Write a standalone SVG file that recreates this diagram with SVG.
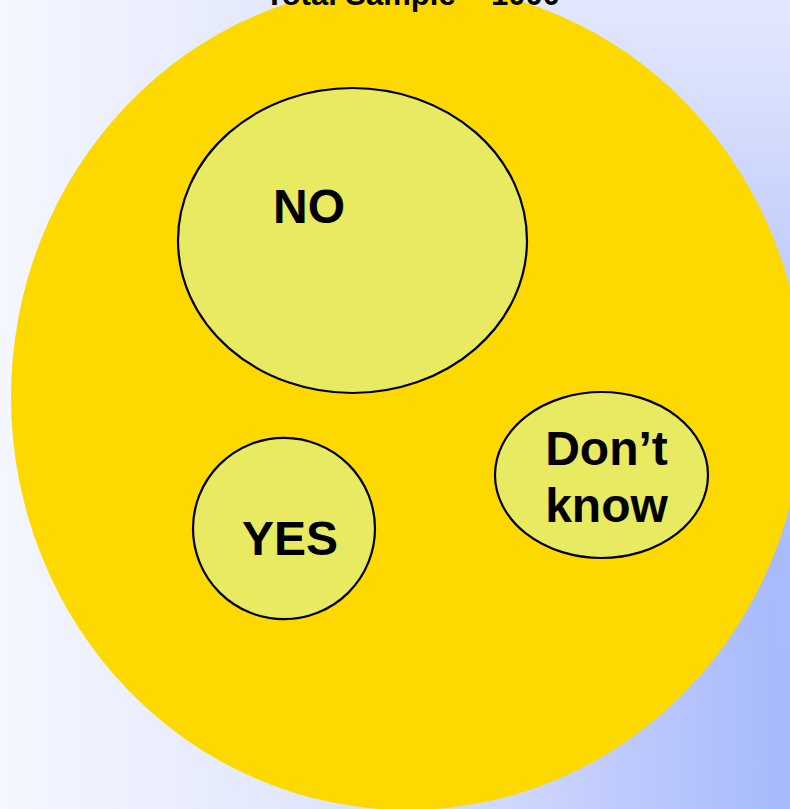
<svg xmlns="http://www.w3.org/2000/svg" width="790" height="809" viewBox="0 0 790 809">
  <defs>
    <linearGradient id="bgH" x1="0" y1="0" x2="790" y2="0" gradientUnits="userSpaceOnUse">
      <stop offset="0" stop-color="#F4F7FF"/>
      <stop offset="0.35" stop-color="#E3E8FB"/>
      <stop offset="0.66" stop-color="#CDD6FC"/>
      <stop offset="0.82" stop-color="#BBC8FC"/>
      <stop offset="1" stop-color="#A6B9FC"/>
    </linearGradient>
    <linearGradient id="bgV" x1="0" y1="0" x2="0" y2="809" gradientUnits="userSpaceOnUse">
      <stop offset="0" stop-color="#E2E7FB"/>
      <stop offset="0.124" stop-color="#D8DFFB"/>
      <stop offset="0.247" stop-color="#CAD4FB"/>
      <stop offset="0.31" stop-color="#C4D0FC"/>
      <stop offset="0.68" stop-color="#A8BBFC"/>
      <stop offset="1" stop-color="#A6B9FC"/>
    </linearGradient>
    <style>
      .inner { fill: #E8EA61; stroke: #000; stroke-width: 2.2; }
      .lbl { font-family: "Liberation Sans", Arial, sans-serif; font-weight: bold; font-size: 48px; fill: #000; }
      .title { font-family: "Liberation Sans", Arial, sans-serif; font-weight: bold; font-size: 31px; fill: #000; }
    </style>
  </defs>
  <g id="background" style="isolation:isolate">
    <rect x="0" y="0" width="790" height="809" fill="url(#bgH)"/>
    <rect x="0" y="0" width="790" height="809" fill="url(#bgV)" style="mix-blend-mode:lighten"/>
  </g>
  <g id="total-sample">
    <ellipse cx="407.5" cy="397" rx="396.5" ry="413" fill="#FDD900"/>
    <text class="title" x="265" y="4.5">Total Sample = 1000</text>
  </g>
  <g id="connectors"></g>
  <g id="node-no">
    <ellipse class="inner" cx="352.5" cy="240.5" rx="174.5" ry="152.5"/>
    <text class="lbl" x="309" y="223" text-anchor="middle">NO</text>
  </g>
  <g id="node-yes">
    <ellipse class="inner" cx="284" cy="528.5" rx="91" ry="90.7"/>
    <text class="lbl" x="290" y="555" text-anchor="middle">YES</text>
  </g>
  <g id="node-dontknow">
    <ellipse class="inner" cx="601.5" cy="475" rx="106.5" ry="83"/>
    <text class="lbl" x="606.5" y="465" text-anchor="middle">Don’t</text>
    <text class="lbl" x="606.5" y="522" text-anchor="middle">know</text>
  </g>
</svg>
